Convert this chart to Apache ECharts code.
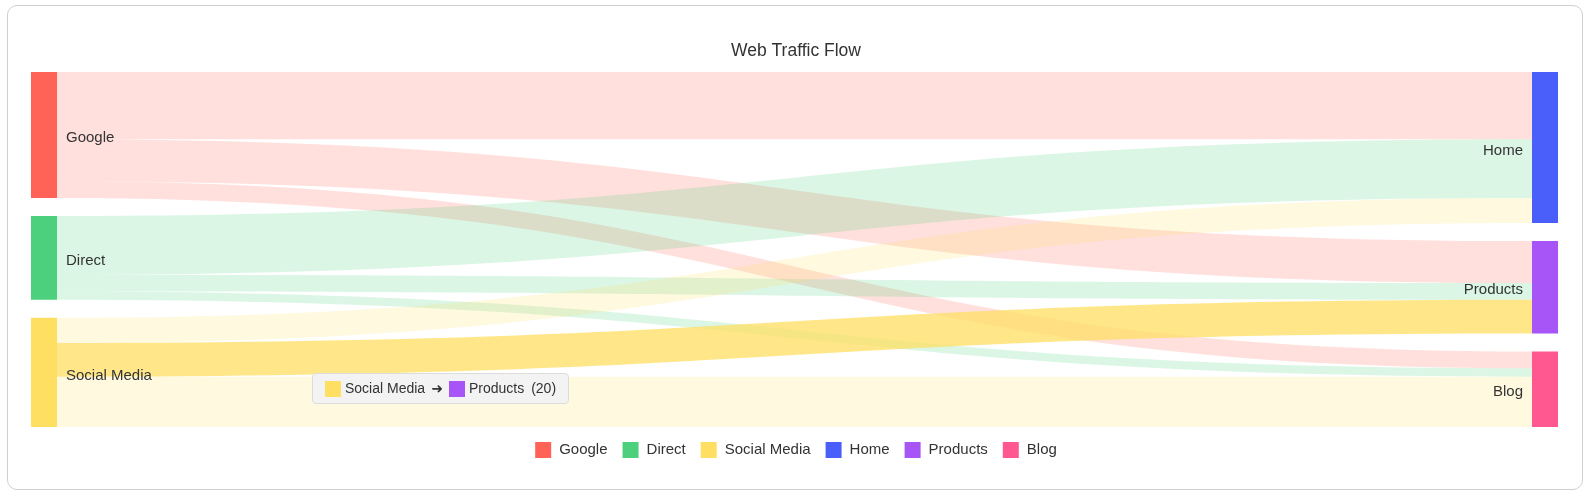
<!DOCTYPE html>
<html><head><meta charset="utf-8">
<script src="https://cdn.jsdelivr.net/npm/echarts@6/dist/echarts.min.js"></script>
<style>
html,body{margin:0;padding:0;background:#fff;width:1592px;height:504px;overflow:hidden}
#chart{position:absolute;left:0;top:0;width:1592px;height:504px}
#frame{position:absolute;left:7px;top:5px;width:1574px;height:483px;border:1px solid #cfcfcf;border-radius:10px;pointer-events:none}
</style></head><body>
<div id="chart"></div><div id="frame"></div>
<script>
const chartTitle = 'Web Traffic Flow';
const nodeNames = ['Google', 'Direct', 'Social Media', 'Home', 'Products', 'Blog'];
const nodeColors = ['#FF6257', '#4CD07D', '#FFDF62', '#4A5FFA', '#A855F7', '#FF5790'];
const linkSources = ['Google', 'Google', 'Google', 'Direct', 'Direct', 'Direct', 'Social Media', 'Social Media', 'Social Media'];
const linkTargets = ['Home', 'Products', 'Blog', 'Home', 'Products', 'Blog', 'Home', 'Products', 'Blog'];
const linkValues = [40, 25, 10, 35, 10, 5, 15, 20, 30];
const sourceNames = ['Google', 'Direct', 'Social Media'];

const FONT = "'Liberation Sans', Arial, sans-serif";
const colorOf = n => nodeColors[nodeNames.indexOf(n)];

const nodes = nodeNames.map((n, i) => ({
  name: n,
  itemStyle: { color: nodeColors[i], borderWidth: 0 },
  label: { position: sourceNames.includes(n) ? 'right' : 'left' }
}));
const links = linkSources.map((s, i) => ({
  source: s, target: linkTargets[i], value: linkValues[i],
  emphasis: { lineStyle: { color: colorOf(s), opacity: 0.75 } }
}));

const sq = c => '<span style="display:inline-block;width:16px;height:16px;background:' + c + ';margin-right:4px"></span>';

const chart = echarts.init(document.getElementById('chart'));
chart.setOption({
  animation: false,
  backgroundColor: '#fff',
  title: {
    text: chartTitle, left: 'center', top: 42, padding: 0,
    textStyle: { fontSize: 17.5, fontWeight: 'normal', color: '#333', fontFamily: FONT }
  },
  legend: {
    data: nodeNames, left: 'center', top: 442, padding: 0,
    itemWidth: 16, itemHeight: 16, itemGap: 15, icon: 'rect', selectedMode: false,
    textStyle: { fontSize: 15, color: '#333', fontFamily: FONT, padding: [0, 0, 0, 3] }
  },
  tooltip: {
    trigger: 'item', triggerOn: 'mousemove', alwaysShowContent: true, transitionDuration: 0,
    position: [312, 373], padding: [6, 12], backgroundColor: '#f3f3f3',
    borderColor: '#dcdcdc', borderWidth: 1,
    extraCssText: 'box-shadow:none;border-radius:4px;',
    textStyle: { fontSize: 14, color: '#333', fontFamily: FONT },
    formatter: function (p) {
      if (p.dataType === 'edge') {
        const d = p.data;
        return '<div style="display:flex;align-items:center;height:17px;line-height:17px;font-size:14px;color:#333;font-family:' + FONT.replace(/'/g, '') + '">' +
          sq(colorOf(d.source)) + d.source +
          '<span style="margin:0 6px;font-family:DejaVu Sans;font-size:14px;color:#333">&#10140;</span>' +
          sq(colorOf(d.target)) + d.target +
          '<span style="margin-left:7px">(' + d.value + ')</span></div>';
      }
      return '<div style="display:flex;align-items:center;height:17px;line-height:17px">' + sq(p.color) + p.name + '<span style="margin-left:7px">(' + p.value + ')</span></div>';
    }
  },
  series: [{
    type: 'sankey',
    left: 31, right: 34, top: 72, bottom: 77,
    nodeWidth: 26, nodeGap: 18, layoutIterations: 0, draggable: false,
    data: nodes,
    links: links,
    label: { color: '#333', fontSize: 15, fontFamily: FONT, distance: 9, offset: [0, 3] },
    lineStyle: { color: 'source', opacity: 0.2, curveness: 0.5 },
    emphasis: { focus: 'none' }
  }].concat(nodeNames.map((n, i) => ({
    type: 'pie', name: n, data: [], radius: 0, silent: true,
    showEmptyCircle: false, itemStyle: { color: nodeColors[i] }
  })))
});

// hover on the Social Media -> Products link, as in the reference
const canvas = chart.getDom().querySelector('canvas');
const opts = { clientX: 300, clientY: 360, bubbles: true, cancelable: true, pointerType: 'mouse' };
try { canvas.dispatchEvent(new PointerEvent('pointermove', opts)); } catch (e) {}
canvas.dispatchEvent(new MouseEvent('mousemove', opts));
</script>
</body></html>
